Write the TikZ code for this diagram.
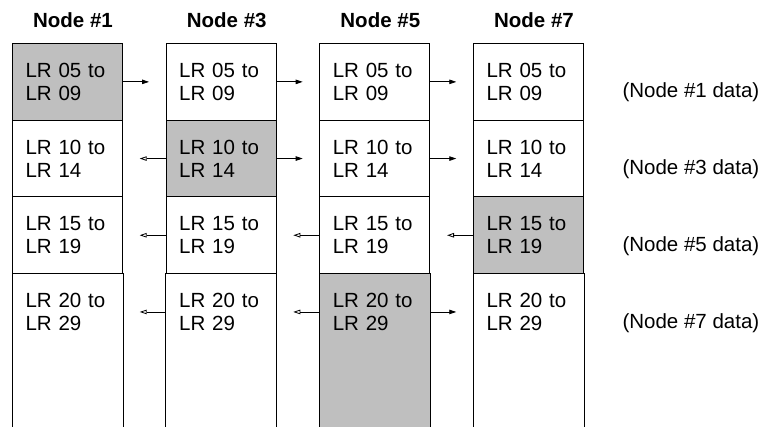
\documentclass[tikz,border=0pt]{standalone}
\usepackage{fontspec}
\setmainfont{Liberation Sans}
\usetikzlibrary{arrows.meta,backgrounds,positioning}
\tikzset{
  lr diagram/.style={x=1pt, y=-1pt, line cap=butt},
  lr cell/.style={draw, line width=1pt, anchor=north west,
    minimum width=110pt, minimum height=76.7pt, text width=84pt,
    inner xsep=13pt, inner ysep=0pt, align=left,
    font=\fontsize{20.5}{23}\selectfont},
  lr open/.style={lr cell, draw=none},
  lr side/.style={line width=1pt},
  lr own/.style={fill=black!25},
  lr head/.style={anchor=base, font=\bfseries\fontsize{20.5}{23}\selectfont},
  lr note/.style={anchor=base west, font=\fontsize{20.5}{23}\selectfont},
  lr send/.style={-{Triangle[length=7pt,width=4.5pt]}, line width=0.8pt},
  lr recv/.style={-{Triangle[open,length=7pt,width=4.5pt]}, line width=0.8pt}
}

\begin{document}
\begin{tikzpicture}[lr diagram]
\useasboundingbox (0,0) rectangle (763,426);
% one column per node, the last area is left open at the bottom
\foreach \n/\x in {1/12,3/165.7,5/319.3,7/473} {
  \node[lr head] (h\n) at (\x+61,27) {Node \#\n};
  \node[lr cell] (n\n-r1) at (\x,43) {LR 05 to\\LR 09};
  \node[lr cell] (n\n-r2) at (\x,119.7) {LR 10 to\\LR 14};
  \node[lr cell] (n\n-r3) at (\x,196.4) {LR 15 to\\LR 19};
  \node[lr open] (n\n-r4) at (\x,273.1) {LR 20 to\\LR 29};
  \draw[lr side] (n\n-r4.north west) -- (n\n-r4.north west |- 0,430);
  \draw[lr side] (n\n-r4.north east) -- (n\n-r4.north east |- 0,430);
}
\begin{scope}[on background layer]
  \fill[lr own] (n1-r1.north west) rectangle (n1-r1.south east);
  \fill[lr own] (n3-r2.north west) rectangle (n3-r2.south east);
  \fill[lr own] (n7-r3.north west) rectangle (n7-r3.south east);
  \fill[lr own] (n5-r4.north west) rectangle (n5-r4.east |- 0,430);
\end{scope}
% transfers
\draw[lr send] (n1-r1.east) -- ++(26,0);
\draw[lr send] (n3-r1.east) -- ++(26,0);
\draw[lr send] (n5-r1.east) -- ++(26,0);
\draw[lr recv] (n3-r2.west) -- ++(-26,0);
\draw[lr send] (n3-r2.east) -- ++(26,0);
\draw[lr send] (n5-r2.east) -- ++(26,0);
\draw[lr recv] (n3-r3.west) -- ++(-26,0);
\draw[lr recv] (n5-r3.west) -- ++(-26,0);
\draw[lr recv] (n7-r3.west) -- ++(-26,0);
\draw[lr recv] (n3-r4.west) -- ++(-26,0);
\draw[lr recv] (n5-r4.west) -- ++(-26,0);
\draw[lr send] (n5-r4.east) -- ++(26,0);
\node[lr note] (d1) at (619,97.5) {(Node \#1 data)};
\node[lr note] (d3) at (619,174.5) {(Node \#3 data)};
\node[lr note] (d5) at (619,251.5) {(Node \#5 data)};
\node[lr note] (d7) at (619,328.5) {(Node \#7 data)};
\end{tikzpicture}
\end{document}
